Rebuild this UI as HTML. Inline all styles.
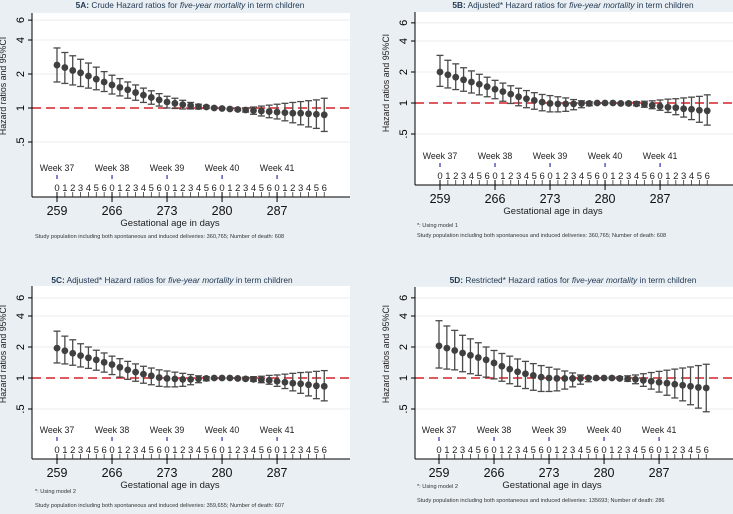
<!DOCTYPE html>
<html><head><meta charset="utf-8"><style>
body{margin:0;background:#e9eff3;}
svg{display:block;font-family:"Liberation Sans",sans-serif;}
</style></head><body>
<svg id="chart" width="733" height="514" viewBox="0 0 733 514"></svg>
<script>
const days = [259,260,261,262,263,264,265,266,267,268,269,270,271,272,273,274,275,276,277,278,279,280,281,282,283,284,285,286,287,288,289,290,291,292,293];
const dayTickLabels = [259,266,273,280,287];
const weekLabels = ["Week 37","Week 38","Week 39","Week 40","Week 41"];
const yTicks = [0.5,1,2,4,6];
const yTickLabels = [".5","1","2","4","6"];

const hrA = [2.4,2.28,2.15,2.05,1.92,1.8,1.7,1.6,1.52,1.45,1.37,1.3,1.24,1.18,1.13,1.1,1.07,1.05,1.03,1.02,1.0,0.99,0.98,0.97,0.96,0.95,0.94,0.93,0.92,0.91,0.9,0.9,0.89,0.88,0.87];
const loA = [1.7,1.65,1.6,1.55,1.5,1.45,1.4,1.33,1.28,1.22,1.17,1.12,1.08,1.04,1.0,0.99,0.98,0.98,0.98,0.99,0.99,0.99,0.97,0.95,0.92,0.88,0.85,0.82,0.8,0.77,0.74,0.71,0.68,0.66,0.62];
const hiA = [3.4,3.1,2.9,2.7,2.5,2.3,2.1,1.95,1.82,1.7,1.6,1.5,1.42,1.34,1.27,1.22,1.17,1.12,1.08,1.05,1.02,1.0,0.99,0.99,1.0,1.02,1.04,1.06,1.08,1.1,1.12,1.14,1.16,1.18,1.22];

const hrB = [2.0,1.88,1.78,1.68,1.6,1.52,1.44,1.36,1.29,1.22,1.15,1.1,1.06,1.02,0.99,0.98,0.98,0.98,0.99,0.99,1.0,1.0,1.0,0.99,0.99,0.98,0.97,0.95,0.93,0.91,0.9,0.88,0.87,0.85,0.84];
const loB = [1.45,1.4,1.35,1.3,1.25,1.2,1.15,1.1,1.04,0.99,0.94,0.9,0.87,0.84,0.82,0.82,0.83,0.86,0.9,0.94,0.98,0.99,0.99,0.98,0.96,0.94,0.91,0.88,0.85,0.81,0.77,0.73,0.69,0.65,0.61];
const hiB = [2.9,2.6,2.4,2.2,2.05,1.9,1.78,1.66,1.56,1.47,1.39,1.32,1.26,1.21,1.18,1.15,1.12,1.08,1.05,1.03,1.01,1.01,1.01,1.01,1.02,1.03,1.04,1.05,1.07,1.09,1.1,1.12,1.14,1.16,1.2];

const hrC = [1.95,1.84,1.74,1.65,1.57,1.5,1.42,1.35,1.27,1.2,1.14,1.09,1.05,1.01,0.99,0.98,0.97,0.97,0.98,0.99,1.0,1.0,1.0,0.99,0.98,0.97,0.96,0.95,0.93,0.91,0.89,0.88,0.86,0.84,0.83];
const loC = [1.4,1.37,1.33,1.28,1.24,1.19,1.14,1.08,1.02,0.97,0.93,0.89,0.86,0.83,0.82,0.82,0.83,0.86,0.9,0.94,0.98,0.99,0.99,0.98,0.96,0.93,0.9,0.87,0.83,0.79,0.75,0.71,0.67,0.63,0.6];
const hiC = [2.85,2.55,2.35,2.15,2.0,1.86,1.75,1.63,1.54,1.45,1.37,1.3,1.25,1.2,1.17,1.14,1.11,1.08,1.05,1.03,1.01,1.01,1.01,1.01,1.02,1.03,1.04,1.06,1.07,1.09,1.11,1.13,1.14,1.16,1.18];

const hrD = [2.05,1.95,1.85,1.75,1.66,1.58,1.5,1.4,1.3,1.22,1.15,1.1,1.06,1.02,1.0,0.99,0.99,0.99,0.99,1.0,1.0,1.0,1.0,0.99,0.98,0.97,0.95,0.93,0.91,0.89,0.87,0.85,0.83,0.81,0.8];
const loD = [1.25,1.22,1.2,1.15,1.1,1.06,1.02,0.98,0.93,0.88,0.83,0.79,0.76,0.74,0.74,0.75,0.78,0.82,0.87,0.92,0.97,0.99,0.99,0.97,0.93,0.88,0.83,0.78,0.73,0.68,0.64,0.6,0.55,0.51,0.47];
const hiD = [3.6,3.2,2.9,2.6,2.4,2.2,2.0,1.85,1.73,1.63,1.53,1.45,1.38,1.32,1.27,1.22,1.17,1.12,1.07,1.03,1.01,1.01,1.02,1.03,1.05,1.07,1.1,1.13,1.16,1.19,1.22,1.25,1.28,1.32,1.36];

const NS = "http://www.w3.org/2000/svg";
const svg = document.getElementById("chart");
function mk(tag, attrs, parent, text){
  const e = document.createElementNS(NS, tag);
  for (const k in attrs) e.setAttribute(k, attrs[k]);
  if (text !== undefined) e.textContent = text;
  (parent||svg).appendChild(e);
  return e;
}

function panel(p, hr, lo, hi){
  const g = mk("g", {}, svg);
  
  
  const xS = d => p.x259 + (d - 259) * 7.86;
  const yS = v => p.y1 - Math.log2(v) * p.k;
  const bg = mk("rect", {x:p.left, y:p.top, width:p.right - p.left, height:p.axis - p.top, fill:"#ffffff"}, g);
  
  
  const t = mk("text", {x:p.tx, y:p.ty + 4, "text-anchor":"middle", "font-size":"8.3", fill:"#1f3550"}, g);
  
  
  mk("tspan", {"font-weight":"bold"}, t, p.id + ":");
  mk("tspan", {}, t, " " + p.kind + " Hazard ratios for ");
  mk("tspan", {"font-style":"italic"}, t, "five-year mortality");
  mk("tspan", {}, t, " in term children");
  yTicks.forEach((v, i) => {
    const y = yS(v);
    const gl = mk("line", {x1:p.left, x2:p.right, y1:y, y2:y, stroke:"#eaeef1", "stroke-width":1}, g);
    
    
    mk("line", {x1:p.left - 4, x2:p.left, y1:y, y2:y, stroke:"#000", "stroke-width":1}, g);
    const tl = mk("text", {x:p.left - 8, y:y, transform:`rotate(-90 ${p.left - 8} ${y})`, "text-anchor":"middle", "font-size":"11", fill:"#000"}, g, yTickLabels[i]);
    
    
  });
  const yt = mk("text", {x:p.ylx, y:p.yly, transform:`rotate(-90 ${p.ylx} ${p.yly})`, "text-anchor":"middle", "font-size":"8.8", fill:"#222"}, g, "Hazard ratios and 95%CI");
  
  
  const rl = mk("line", {x1:p.left, x2:p.right, y1:yS(1), y2:yS(1), stroke:"#d2232a", "stroke-width":1.6, "stroke-dasharray":"9,5"}, g);
  
  
  mk("line", {x1:p.left, x2:p.left, y1:p.top, y2:p.axis, stroke:"#000", "stroke-width":1}, g);
  mk("line", {x1:p.left, x2:p.right, y1:p.axis, y2:p.axis, stroke:"#000", "stroke-width":1}, g);
  days.forEach((d, i) => {
    const x = xS(d);
    const dt = mk("text", {x:x, y:p.axis - 6, "text-anchor":"middle", "font-size":"9.5", fill:"#222"}, g, String(i % 7));
    
    
    mk("line", {x1:x, x2:x, y1:p.axis - 5, y2:p.axis, stroke:"#333", "stroke-width":0.8}, g);
  });
  dayTickLabels.forEach((d, i) => {
    const x = xS(d);
    mk("line", {x1:x, x2:x, y1:p.axis - 5, y2:p.axis + 5, stroke:"#000", "stroke-width":1}, g);
    const dl = mk("text", {x:x, y:p.axis + 18, "text-anchor":"middle", "font-size":"12.5", fill:"#111"}, g, String(d));
    
    
    const wl = mk("text", {x:x, y:p.axis - 26, "text-anchor":"middle", "font-size":"8.8", fill:"#222"}, g, weekLabels[i]);
    
    
    mk("line", {x1:x, x2:x, y1:p.axis - 22, y2:p.axis - 18, stroke:"#3030b0", "stroke-width":1.2}, g);
  });
  const xt = mk("text", {x:(xS(259) + xS(287)) / 2 + 3, y:p.axis + 29, "text-anchor":"middle", "font-size":"9.5", fill:"#222"}, g, "Gestational age in days");
  
  
  days.forEach((d, i) => {
    const x = xS(d);
    const eb = mk("g", {stroke:"#4a4a4a", "stroke-width":1.3}, g);
    
    
    mk("line", {x1:x, x2:x, y1:yS(lo[i]), y2:yS(hi[i])}, eb);
    mk("line", {x1:x - 3.5, x2:x + 3.5, y1:yS(lo[i]), y2:yS(lo[i])}, eb);
    mk("line", {x1:x - 3.5, x2:x + 3.5, y1:yS(hi[i]), y2:yS(hi[i])}, eb);
    const c = mk("circle", {cx:x, cy:yS(hr[i]), r:3.4, fill:"#404040"}, g);
    
    
  });
  p.notes.forEach(n => {
    const nt = mk("text", {x:p.nx, y:n[0] + 2, "font-size":"5.6", fill:"#333"}, g, n[1]);
    
    
  });
}

panel({id:"5A", kind:"Crude", left:32, right:350, top:13, axis:197, y1:108, k:34, x259:57, tx:190, ty:4, ylx:6, yly:86, nx:35,
  notes:[[236,"Study population including both spontaneous and induced deliveries: 360,765; Number of death: 608"]]}, hrA, loA, hiA);
panel({id:"5B", kind:"Adjusted*", left:415, right:733, top:12, axis:185, y1:103, k:31, x259:440, tx:573, ty:4, ylx:389, yly:83, nx:417,
  notes:[[225,"*: Using model 1"],[235,"Study population including both spontaneous and induced deliveries: 360,765; Number of death: 608"]]}, hrB, loB, hiB);
panel({id:"5C", kind:"Adjusted*", left:32, right:350, top:286, axis:459, y1:378, k:31, x259:57, tx:172, ty:279, ylx:6, yly:354, nx:35,
  notes:[[491,"*: Using model 2"],[505,"Study population including both spontaneous and induced deliveries: 359,655; Number of death: 607"]]}, hrC, loC, hiC);
panel({id:"5D", kind:"Restricted*", left:415, right:733, top:287, axis:459, y1:378, k:31, x259:439, tx:573, ty:279, ylx:389, yly:354, nx:417,
  notes:[[486,"*: Using model 2"],[500,"Study population including both spontaneous and induced deliveries: 135693; Number of death: 286"]]}, hrD, loD, hiD);
</script>
</body></html>
